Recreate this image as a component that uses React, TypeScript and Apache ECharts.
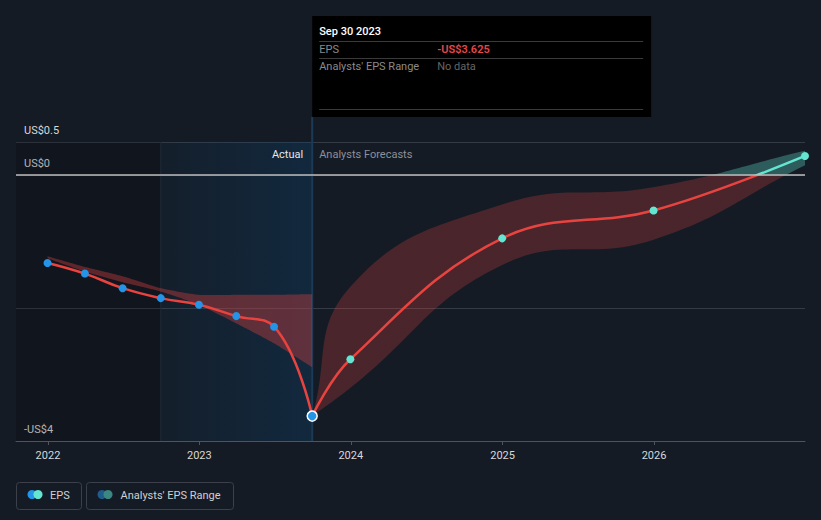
import React, { useEffect, useRef } from 'react';
import * as echarts from 'echarts';

// ---- data ----
const actualDates = ['2021-12-31', '2022-03-31', '2022-06-30', '2022-09-30', '2022-12-31', '2023-03-31', '2023-06-30', '2023-09-30'];
const actualEps = [-1.32, -1.48, -1.7, -1.85, -1.95, -2.12, -2.28, -3.625];
const pastRangeHigh = [-1.22, -1.38, -1.52, -1.7, -1.8, -1.8, -1.8, -1.79];
const pastRangeLow = [-1.25, -1.45, -1.61, -1.75, -1.95, -2.23, -2.53, -2.89];
const forecastDates = ['2023-09-30', '2023-12-31', '2024-12-31', '2025-12-31', '2026-12-31'];
const forecastEps = [-3.625, -2.77, -0.95, -0.53, 0.29];
const forecastHigh = [-3.625, -1.68, -0.44, -0.18, 0.37];
const forecastLow = [-3.625, -3.2, -1.35, -0.97, 0.15];
const yTickValues = [-4, -2, 0, 0.5];
const yLabelValues = [-4, 0, 0.5];
const xLabelYears = [2022, 2023, 2024, 2025, 2026];
const X_MIN = '2021-10-16';
const X_MAX = '2026-12-31';
const HIGHLIGHT_START = '2022-09-30';
const LAST_ACTUAL = '2023-09-30';
const Y_MIN = -4;
const Y_MAX = 0.5;

const RED = '#e8433f';
const CYAN = '#63e5d1';
const BLUE = '#2394e8';
const BG = '#151b25';
const FONT = 'Roboto, "Noto Sans", sans-serif';

function ts(s: string) {
  const [y, m, d] = s.split('-').map(Number);
  return new Date(y, m - 1, d).getTime();
}
function pair(dates: string[], vals: number[]) {
  return dates.map((d, i) => [ts(d), vals[i]]);
}
function fmtUsd(v: number) {
  return v < 0 ? `-US$${Math.abs(v)}` : `US$${v}`;
}

// sample a smooth (bezier) curve through pixel points, like ECharts' smoothed line
function smoothPoints(p: number[][], s: number): number[][] {
  const n = p.length;
  if (n < 2 || s <= 0) return p.slice();
  const cps = p.map((pt, i) => {
    const prev = p[Math.max(0, i - 1)];
    const next = p[Math.min(n - 1, i + 1)];
    const vx = (next[0] - prev[0]) * s;
    const vy = (next[1] - prev[1]) * s;
    const d0 = Math.hypot(pt[0] - prev[0], pt[1] - prev[1]);
    const d1 = Math.hypot(next[0] - pt[0], next[1] - pt[1]);
    const r = d0 + d1 > 0 ? d1 / (d0 + d1) : 0.5;
    return { o: [pt[0] + vx * r, pt[1] + vy * r], i: [pt[0] - vx * (1 - r), pt[1] - vy * (1 - r)] };
  });
  const out: number[][] = [p[0]];
  for (let i = 0; i < n - 1; i++) {
    const a = p[i], b = p[i + 1], c1 = cps[i].o, c2 = cps[i + 1].i;
    const steps = 30;
    for (let k = 1; k <= steps; k++) {
      const t = k / steps, u = 1 - t;
      out.push([
        u * u * u * a[0] + 3 * u * u * t * c1[0] + 3 * u * t * t * c2[0] + t * t * t * b[0],
        u * u * u * a[1] + 3 * u * u * t * c1[1] + 3 * u * t * t * c2[1] + t * t * t * b[1],
      ]);
    }
  }
  return out;
}

function bandSeries(dates: string[], high: number[], low: number[], smooth: number, fill: (api: any) => any) {
  return {
    type: 'custom',
    silent: true,
    z: 2,
    clip: true,
    data: dates.map((d, i) => [ts(d), high[i], low[i]]),
    encode: { x: 0, y: [1, 2] },
    renderItem: (params: any, api: any) => {
      if (params.dataIndex !== 0) return null;
      const up = dates.map((d, i) => api.coord([ts(d), high[i]]));
      const lo = dates.map((d, i) => api.coord([ts(d), low[i]]));
      const pts = smoothPoints(up, smooth).concat(smoothPoints(lo, smooth).reverse());
      return { type: 'polygon', shape: { points: pts }, style: { fill: fill(api) } };
    },
  };
}

export default function App() {
  const ref = useRef<HTMLDivElement>(null);
  useEffect(() => {
    const chart = echarts.init(ref.current!, null, { renderer: 'svg' });
    const yearTicks = xLabelYears.map((y) => ts(`${y}-01-01`));
    const actualData: any[] = pair(actualDates, actualEps).map((p, i) =>
      i === actualDates.length - 1
        ? { value: p, symbolSize: 10, itemStyle: { color: BLUE, borderColor: '#ffffff', borderWidth: 1.5 } }
        : p
    );
    const option: any = {
      animation: false,
      backgroundColor: BG,
      textStyle: { fontFamily: FONT },
      grid: { left: 16, right: 16, top: 142, bottom: 79, containLabel: false, outerBoundsMode: 'none' },
      xAxis: {
        type: 'value',
        min: ts(X_MIN),
        max: ts(X_MAX),
        scale: true,
        splitLine: { show: false },
        axisLine: { show: true, onZero: false, lineStyle: { color: '#4e535c', width: 1 } },
        axisTick: { show: true, length: 4, lineStyle: { color: '#4e535c' }, customValues: yearTicks },
        axisLabel: {
          color: '#d8d8d8',
          fontSize: 11,
          fontFamily: FONT,
          margin: 9,
          customValues: yearTicks,
          formatter: (v: number) => String(new Date(v).getFullYear()),
        },
      },
      yAxis: {
        type: 'value',
        min: Y_MIN,
        max: Y_MAX,
        axisLine: { show: false },
        axisTick: { show: false, customValues: yTickValues },
        splitLine: { show: true, lineStyle: { color: '#353a44', width: 1 } },
        axisLabel: {
          inside: true,
          customValues: yTickValues,
          formatter: (v: number) => (yLabelValues.indexOf(v) >= 0 ? fmtUsd(v) : ''),
          color: '#d8d8d8',
          fontSize: 11,
          fontFamily: FONT,
          margin: 8,
          verticalAlign: 'bottom',
          padding: [0, 0, 6, 0],
        },
      },
      visualMap: {
        show: false,
        type: 'piecewise',
        seriesIndex: [4],
        dimension: 1,
        pieces: [
          { gte: -100, lt: 0, color: RED },
          { gte: 0, lte: 100, color: CYAN },
        ],
      },
      series: [
        {
          type: 'line',
          name: 'shading',
          data: pair(actualDates, actualEps),
          symbol: 'none',
          silent: true,
          z: 1,
          lineStyle: { opacity: 0 },
          markArea: {
            silent: true,
            data: [
              [{ xAxis: ts(X_MIN), itemStyle: { color: 'rgba(0,0,0,0.17)' } }, { xAxis: ts(HIGHLIGHT_START) }],
              [
                {
                  xAxis: ts(HIGHLIGHT_START),
                  itemStyle: {
                    color: {
                      type: 'linear', x: 0, y: 0, x2: 1, y2: 0,
                      colorStops: [
                        { offset: 0, color: 'rgba(11,70,114,0.08)' },
                        { offset: 1, color: 'rgba(11,70,114,0.32)' },
                      ],
                    },
                  },
                },
                { xAxis: ts(LAST_ACTUAL) },
              ],
            ],
          },
        },
        bandSeries(actualDates, pastRangeHigh, pastRangeLow, 0.2, () => 'rgba(232,67,63,0.36)'),
        bandSeries(forecastDates, forecastHigh, forecastLow, 0.45, (api: any) => {
          const x0 = ts(X_MIN);
          const top = api.coord([x0, Y_MAX])[1];
          const bot = api.coord([x0, Y_MIN])[1];
          const zero = api.coord([x0, 0])[1];
          const f = (zero - top) / (bot - top);
          return new echarts.graphic.LinearGradient(0, top, 0, bot, [
            { offset: 0, color: 'rgba(99,229,209,0.32)' },
            { offset: f, color: 'rgba(99,229,209,0.32)' },
            { offset: f, color: 'rgba(232,67,63,0.25)' },
            { offset: 1, color: 'rgba(232,67,63,0.25)' },
          ], true);
        }),
        {
          type: 'line',
          name: 'EPS',
          data: actualData,
          z: 4,
          smooth: 0.45,
          symbol: 'circle',
          symbolSize: 8,
          showAllSymbol: true,
          lineStyle: { color: RED, width: 2.5 },
          itemStyle: { color: BLUE },
        },
        {
          type: 'line',
          name: 'EPS forecast',
          data: pair(forecastDates, forecastEps),
          z: 3,
          smooth: 0.4,
          symbol: 'none',
          lineStyle: { width: 2.5 },
        },
        {
          type: 'scatter',
          name: 'EPS forecast points',
          data: pair(forecastDates.slice(1), forecastEps.slice(1)),
          z: 5,
          symbolSize: 8,
          itemStyle: { color: CYAN, opacity: 1 },
          markLine: {
            silent: true,
            symbol: 'none',
            label: { show: false },
            lineStyle: { color: '#bdbdbd', width: 1.5, type: 'solid' },
            data: [{ yAxis: 0 }],
          },
        },
      ],
    };
    chart.setOption(option);

    const px = chart.convertToPixel({ xAxisIndex: 0 }, ts(LAST_ACTUAL)) as number;
    const pxStart = chart.convertToPixel({ xAxisIndex: 0 }, ts(HIGHLIGHT_START)) as number;
    const yTop = chart.convertToPixel({ yAxisIndex: 0 }, Y_MAX) as number;
    const yBot = chart.convertToPixel({ yAxisIndex: 0 }, Y_MIN) as number;
    const txt = (x: number, y: number, text: string, fill: string, extra: any = {}) => ({
      type: 'text',
      x,
      y,
      z: 100,
      silent: true,
      style: {
        text,
        fill,
        fontSize: 11,
        fontFamily: FONT,
        align: 'left',
        verticalAlign: 'middle',
        ...extra,
      },
    });
    const sep = (y: number) => ({
      type: 'line',
      z: 100,
      silent: true,
      shape: { x1: px + 7, y1: y, x2: px + 331, y2: y },
      style: { stroke: '#3a3a3a', lineWidth: 1 },
    });
    chart.setOption({
      graphic: [
        { type: 'line', z: 1, silent: true, shape: { x1: pxStart, y1: yTop, x2: pxStart, y2: yBot }, style: { stroke: '#1f2b3a', lineWidth: 1 } },
        { type: 'line', z: 1, silent: true, shape: { x1: px, y1: 117, x2: px, y2: yBot }, style: { stroke: '#1b3a56', lineWidth: 2 } },
        txt(px - 9, 154, 'Actual', '#e6e6e6', { align: 'right' }),
        txt(px + 7, 154, 'Analysts Forecasts', '#8b9099'),
        { type: 'rect', z: 99, silent: true, shape: { x: px, y: 16, width: 339, height: 101 }, style: { fill: '#000000' } },
        txt(px + 7, 31, 'Sep 30 2023', '#ffffff', { fontWeight: 500 }),
        sep(41.5),
        txt(px + 7, 49.5, 'EPS', '#8a8a8a'),
        txt(px + 125, 49.5, '-US$3.625', '#e5484d', { fontWeight: 600 }),
        sep(58.5),
        txt(px + 7, 66, "Analysts' EPS Range", '#8a8a8a'),
        txt(px + 125, 66, 'No data', '#666666'),
        sep(109.5),
        // legend
        { type: 'rect', silent: true, shape: { x: 16.5, y: 482.5, width: 65, height: 27, r: 3 }, style: { fill: 'none', stroke: '#3b404a', lineWidth: 1 } },
        { type: 'circle', silent: true, shape: { cx: 32, cy: 494.5, r: 4.5 }, style: { fill: BLUE } },
        { type: 'circle', silent: true, shape: { cx: 38, cy: 494.5, r: 4.5 }, style: { fill: CYAN } },
        txt(50, 495, 'EPS', '#d0d0d0'),
        { type: 'rect', silent: true, shape: { x: 86.5, y: 482.5, width: 147, height: 27, r: 3 }, style: { fill: 'none', stroke: '#3b404a', lineWidth: 1 } },
        { type: 'circle', silent: true, shape: { cx: 102, cy: 494.5, r: 4.5 }, style: { fill: '#1f5b8b' } },
        { type: 'circle', silent: true, shape: { cx: 108, cy: 494.5, r: 4.5 }, style: { fill: '#3b8781' } },
        txt(120.5, 495, "Analysts' EPS Range", '#d0d0d0'),
      ],
    });
    return () => chart.dispose();
  }, []);
  return <div ref={ref} style={{ position: 'fixed', left: 0, top: 0, width: 821, height: 520, background: BG }} />;
}
